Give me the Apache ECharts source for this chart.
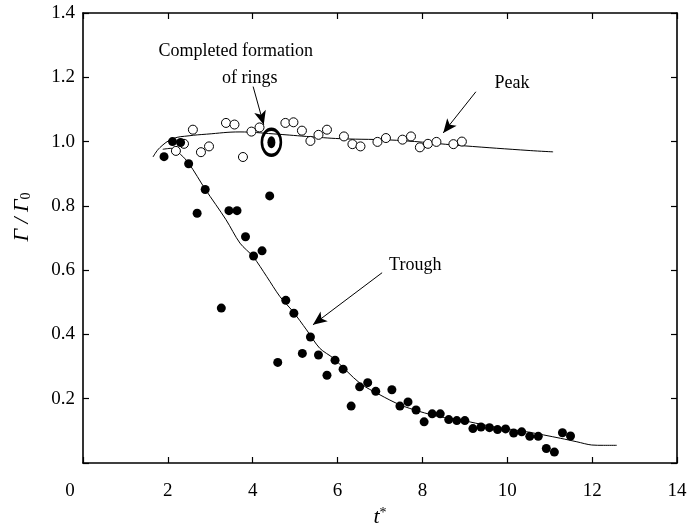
<!DOCTYPE html>
<html>
<head>
<meta charset="utf-8">
<script src="https://cdn.jsdelivr.net/npm/echarts@6/dist/echarts.min.js"></script>
<style>html,body{margin:0;padding:0;background:#fff;}#c{width:687px;height:524px;}</style>
</head>
<body>
<div id="c"></div>
<script>
// ---- data ----
var xTicks = [0, 2, 4, 6, 8, 10, 12, 14];
var yTicks = [0.2, 0.4, 0.6, 0.8, 1.0, 1.2, 1.4];

var troughX = [1.91,2.11,2.30,2.49,2.69,2.88,3.26,3.44,3.63,3.83,4.02,4.22,4.40,4.59,4.78,4.97,5.17,5.36,5.55,5.75,5.94,6.13,6.32,6.52,6.71,6.90,7.28,7.47,7.66,7.85,8.04,8.23,8.42,8.62,8.81,9.00,9.19,9.38,9.58,9.77,9.96,10.15,10.34,10.53,10.73,10.92,11.11,11.30,11.49];
var troughY = [0.953,1.000,0.997,0.931,0.777,0.851,0.482,0.785,0.785,0.704,0.644,0.660,0.831,0.313,0.506,0.466,0.341,0.392,0.336,0.273,0.320,0.292,0.177,0.237,0.250,0.223,0.228,0.177,0.190,0.165,0.128,0.153,0.153,0.135,0.132,0.132,0.107,0.112,0.110,0.104,0.106,0.093,0.097,0.083,0.083,0.045,0.034,0.094,0.084];

var peakX = [2.19,2.38,2.59,2.78,2.97,3.37,3.57,3.77,3.97,4.16,4.77,4.96,5.16,5.36,5.55,5.75,6.15,6.35,6.54,6.94,7.14,7.53,7.73,7.94,8.13,8.33,8.73,8.93];
var peakY = [0.971,0.993,1.037,0.967,0.985,1.058,1.053,0.952,1.031,1.044,1.058,1.060,1.034,1.002,1.021,1.037,1.016,0.992,0.985,0.999,1.011,1.006,1.016,0.982,0.993,0.999,0.992,1.000];

var ringX = [4.44];
var ringY = [0.998];

var peakCurveX = [1.65,1.81,2.12,2.50,2.91,3.70,4.48,5.27,6.06,7.39,8.96,10.54,11.08];
var peakCurveY = [0.952,0.981,1.009,1.018,1.023,1.030,1.024,1.016,1.009,1.004,0.987,0.972,0.968];

var troughCurveX = [1.88,2.08,2.30,2.50,2.88,3.37,3.70,4.01,4.33,4.64,4.95,5.27,5.58,5.90,6.53,7.00,7.47,7.94,8.41,8.89,9.36,9.67,10.46,11.25,11.64,11.99,12.27,12.58];
var troughCurveY = [0.976,0.979,0.960,0.931,0.852,0.757,0.684,0.642,0.580,0.518,0.471,0.414,0.357,0.326,0.248,0.212,0.181,0.160,0.144,0.134,0.121,0.113,0.097,0.077,0.066,0.056,0.055,0.055];

var noteTexts = ['Completed formation', 'of rings', 'Peak', 'Trough'];
var noteX = [3.60, 3.93, 10.11, 7.83];
var noteY = [1.280, 1.196, 1.180, 0.616];

var arrowFrom = [[4.01, 1.171], [9.26, 1.155], [7.05, 0.592]];
var arrowTo   = [[4.26, 1.052], [8.49, 1.027], [5.42, 0.430]];

function zip(a, b) { return a.map(function (v, i) { return [v, b[i]]; }); }

var FONT = '"Liberation Serif", "Times New Roman", serif';

var chart = echarts.init(document.getElementById('c'), null, {renderer: 'canvas'});

function axisCommon(extra) {
  var base = {
    type: 'value',
    axisLine: {show: true, onZero: false, lineStyle: {color: '#000', width: 1.6}},
    axisTick: {show: true, inside: true, length: 6, lineStyle: {color: '#000', width: 1.2}},
    splitLine: {show: false},
    axisLabel: {show: false}
  };
  for (var k in extra) base[k] = extra[k];
  return base;
}

var option = {
  animation: false,
  backgroundColor: '#fff',
  grid: {left: 83, right: 10, top: 13, bottom: 61, containLabel: false, outerBoundsMode: 'none'},
  xAxis: [
    axisCommon({
      min: 0, max: 14, interval: 2, position: 'bottom',
      axisLabel: {show: true, margin: 19, color: '#000', fontFamily: FONT, fontSize: 19,
        formatter: function (v) {
          if (xTicks.indexOf(v) < 0) return '';
          return v === 0 ? '{z|0}' : String(v);
        },
        rich: {z: {fontFamily: FONT, fontSize: 19, color: '#000', padding: [0, 26, 0, 0]}}
      },
      name: '{i|t}{s|*}', nameLocation: 'middle', nameGap: 39,
      nameTextStyle: {rich: {
        i: {fontFamily: FONT, fontStyle: 'italic', fontSize: 22, color: '#000'},
        s: {fontFamily: FONT, fontSize: 14, color: '#000', verticalAlign: 'top', padding: [0,0,8,0]}
      }}
    }),
    axisCommon({min: 0, max: 14, interval: 2, position: 'top'})
  ],
  yAxis: [
    axisCommon({
      min: 0, max: 1.4, interval: 0.2, position: 'left',
      axisLabel: {show: true, margin: 8, color: '#000', fontFamily: FONT, fontSize: 19,
        formatter: function (v) {
          var r = Math.round(v * 10) / 10;
          return yTicks.indexOf(r) >= 0 ? r.toFixed(1) : '';
        }}
    }),
    axisCommon({min: 0, max: 1.4, interval: 0.2, position: 'right'})
  ],
  graphic: [{
    type: 'text',
    x: 22, y: 217,
    rotation: Math.PI / 2,
    style: {
      text: '{i|Γ / Γ}{s|0}',
      align: 'center', verticalAlign: 'middle',
      rich: {
        i: {fontFamily: FONT, fontStyle: 'italic', fontSize: 22, fill: '#000'},
        s: {fontFamily: FONT, fontSize: 14, fill: '#000', verticalAlign: 'bottom', padding: [8,0,0,0]}
      }
    }
  }],
  series: [
    {
      name: 'peakCurve', type: 'line', data: zip(peakCurveX, peakCurveY),
      smooth: 0.4, showSymbol: false, symbol: 'none',
      lineStyle: {color: '#000', width: 1}, z: 2, silent: true
    },
    {
      name: 'troughCurve', type: 'line', data: zip(troughCurveX, troughCurveY),
      smooth: 0.3, showSymbol: false, symbol: 'none',
      lineStyle: {color: '#000', width: 1}, z: 2, silent: true
    },
    {
      name: 'peak', type: 'scatter', data: zip(peakX, peakY),
      symbol: 'circle', symbolSize: 9,
      itemStyle: {color: '#fff', borderColor: '#000', borderWidth: 1, opacity: 1}, z: 3,
      markLine: {
        silent: true, symbol: ['none', 'arrow'], symbolSize: [9, 14], precision: 3,
        label: {show: false},
        lineStyle: {color: '#000', width: 1, type: 'solid'},
        data: arrowFrom.map(function (p, i) { return [{coord: p}, {coord: arrowTo[i]}]; })
      }
    },
    {
      name: 'trough', type: 'scatter', data: zip(troughX, troughY),
      symbol: 'circle', symbolSize: 9,
      itemStyle: {color: '#000', opacity: 1}, z: 4
    },
    {
      name: 'ringOuter', type: 'scatter', data: zip(ringX, ringY),
      symbol: 'circle', symbolSize: [19, 26],
      itemStyle: {color: 'rgba(255,255,255,0)', borderColor: '#000', borderWidth: 3, opacity: 1}, z: 5
    },
    {
      name: 'ringInner', type: 'scatter', data: zip(ringX, ringY),
      symbol: 'circle', symbolSize: [8, 12],
      itemStyle: {color: '#000', opacity: 1}, z: 5
    },
    {
      name: 'notes', type: 'scatter',
      data: noteX.map(function (x, i) { return [x, noteY[i], noteTexts[i]]; }),
      symbolSize: 0, itemStyle: {color: '#000', opacity: 1}, z: 6,
      label: {show: true, position: 'inside', color: '#000', opacity: 1, textBorderWidth: 0,
        fontFamily: FONT, fontSize: 18,
        formatter: function (p) { return p.value[2]; }},
      labelLayout: {hideOverlap: false}
    }
  ]
};
chart.setOption(option);
</script>
</body>
</html>
